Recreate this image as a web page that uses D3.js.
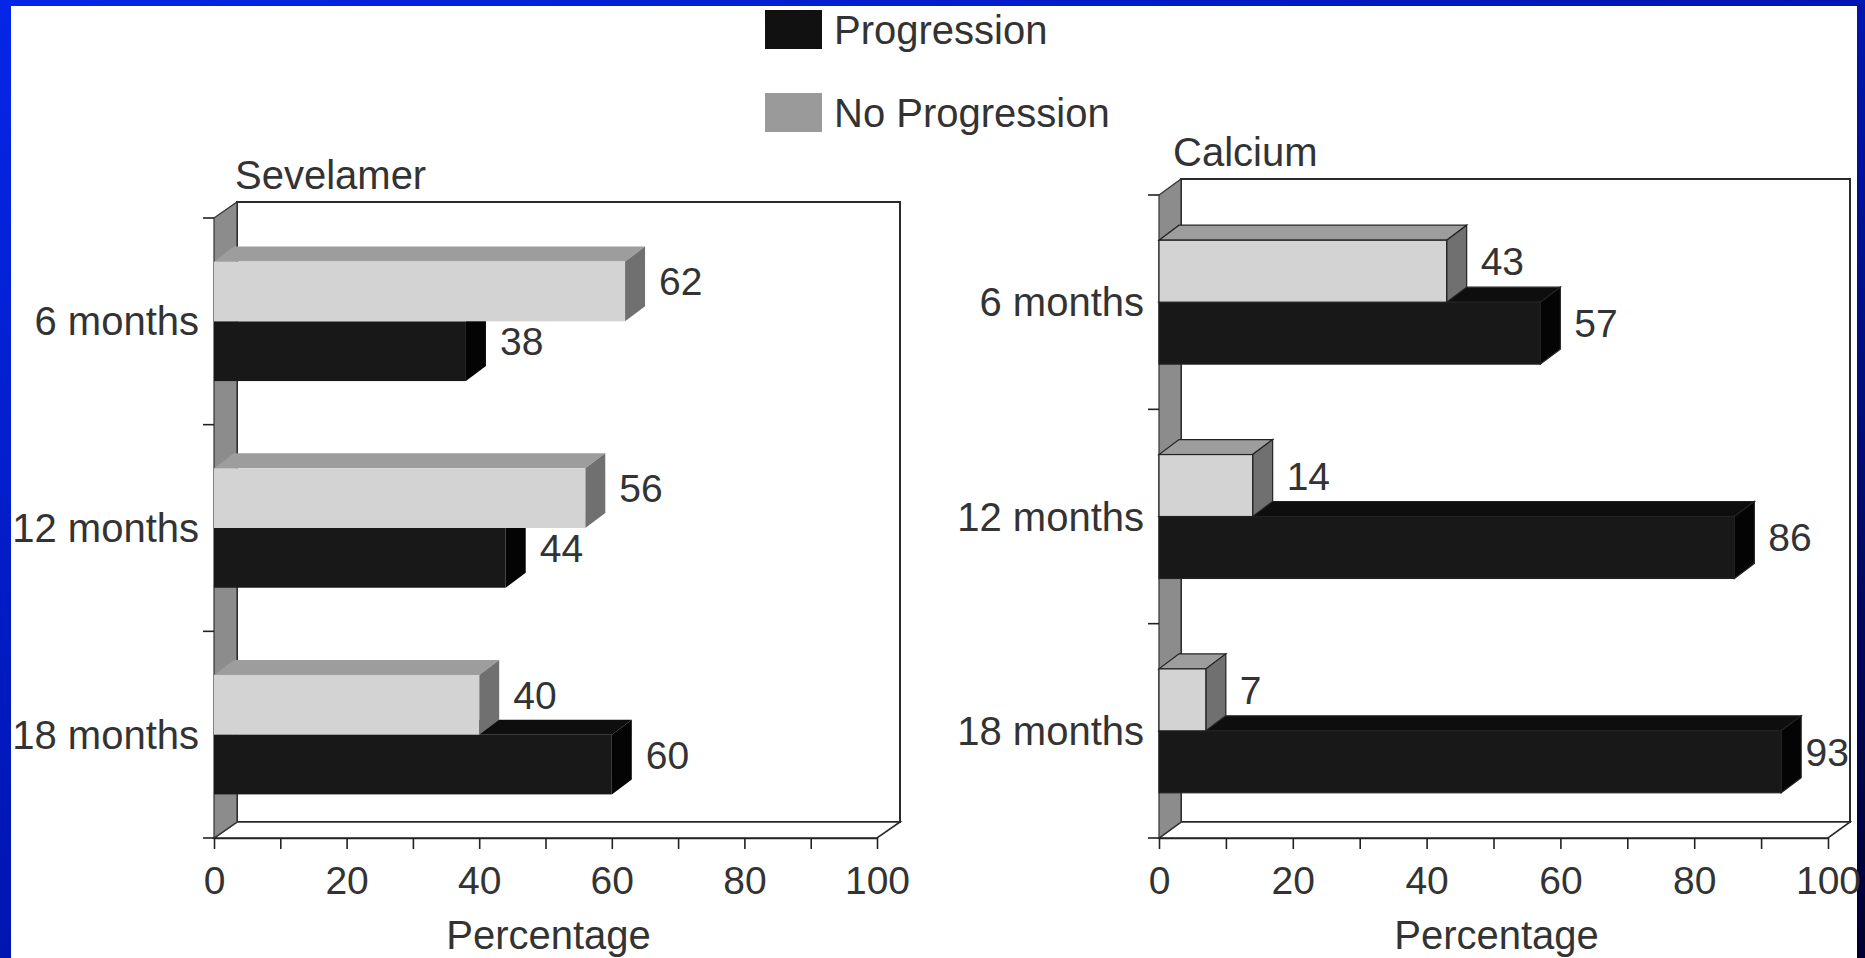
<!DOCTYPE html>
<html>
<head>
<meta charset="utf-8">
<script src="https://cdn.jsdelivr.net/npm/d3@7"></script>
<style>
  html, body { margin: 0; padding: 0; background: #fff; }
  svg { display: block; }
  text { font-family: "Liberation Sans", Arial, Helvetica, sans-serif; fill: #333; }
</style>
</head>
<body>
<svg id="chart" width="1865" height="958"></svg>
<script>
// ---------------- data ----------------
const categories = ["6 months", "12 months", "18 months"];
const seriesNames = ["Progression", "No Progression"];
const sevelamerProgression = [38, 44, 60];
const sevelamerNoProgression = [62, 56, 40];
const calciumProgression = [57, 86, 93];
const calciumNoProgression = [43, 14, 7];
const xTickValues = [0, 10, 20, 30, 40, 50, 60, 70, 80, 90, 100];
const xLabelValues = [0, 20, 40, 60, 80, 100];
const panelTitles = ["Sevelamer", "Calcium"];
const xAxisTitle = "Percentage";

// ---------------- styles ----------------
const FONT = 39;
const colors = {
  "No Progression": { front: "#d3d3d3", top: "#9d9d9d", side: "#707070", swatch: "#9a9a9a" },
  "Progression": { front: "#181818", top: "#0e0e0e", side: "#040404", swatch: "#111111" }
};

const svg = d3.select("#chart");

// blue background with gradient
const defs = svg.append("defs");
const grad = defs.append("linearGradient").attr("id", "bg")
  .attr("x1", "0").attr("y1", "0").attr("x2", "1").attr("y2", "1");
grad.append("stop").attr("offset", "0").attr("stop-color", "#0526e8");
grad.append("stop").attr("offset", "0.5").attr("stop-color", "#0016b0");
grad.append("stop").attr("offset", "1").attr("stop-color", "#000030");
svg.append("rect").attr("width", 1865).attr("height", 958).attr("fill", "url(#bg)");
svg.append("rect").attr("x", 11).attr("y", 6).attr("width", 1846).attr("height", 952).attr("fill", "#ffffff");

// ---------------- legend ----------------
const legend = svg.append("g");
const legendY = d3.scalePoint().domain(seriesNames).range([10, 93]);
seriesNames.forEach(s => {
  legend.append("rect").attr("x", 765).attr("y", legendY(s)).attr("width", 57).attr("height", 39)
    .attr("fill", colors[s].swatch);
  legend.append("text").attr("x", 834).attr("y", legendY(s) + 34)
    .attr("font-size", 40).text(s);
});

// ---------------- panels ----------------
const panels = [
  { title: panelTitles[0], prog: sevelamerProgression, noProg: sevelamerNoProgression,
    x0: 214, x1: 877, top: 218, floor: 838, wdx: 23, wdy: -16, clampRight: 1849, titleDx: 0 },
  { title: panelTitles[1], prog: calciumProgression, noProg: calciumNoProgression,
    x0: 1159, x1: 1828, top: 195, floor: 838, wdx: 22, wdy: -16, clampRight: 1849, titleDx: -6 }
];
const bdx = 20, bdy = -15;
const pts = arr => arr.map(p => p.join(",")).join(" ");

panels.forEach((p, pi) => {
  const g = svg.append("g");
  const x = d3.scaleLinear().domain([0, 100]).range([p.x0, p.x1]);
  const y = d3.scaleBand().domain(categories).range([p.top, p.floor])
    .paddingInner(0.422).paddingOuter(0.211);
  const ySub = d3.scaleBand().domain(["No Progression", "Progression"]).range([0, y.bandwidth()]);
  const step = y.step();

  // back wall
  g.append("rect")
    .attr("x", p.x0 + p.wdx).attr("y", p.top + p.wdy)
    .attr("width", p.x1 - p.x0).attr("height", p.floor - p.top)
    .attr("fill", "#fff").attr("stroke", "#2a2a2a").attr("stroke-width", 2);
  // floor
  g.append("polygon")
    .attr("points", pts([[p.x0, p.floor], [p.x1, p.floor], [p.x1 + p.wdx, p.floor + p.wdy], [p.x0 + p.wdx, p.floor + p.wdy]]))
    .attr("fill", "#fff").attr("stroke", "#2a2a2a").attr("stroke-width", 1.6);
  // left wall
  g.append("polygon")
    .attr("points", pts([[p.x0, p.top], [p.x0 + p.wdx, p.top + p.wdy], [p.x0 + p.wdx, p.floor + p.wdy], [p.x0, p.floor]]))
    .attr("fill", "#8c8c8c").attr("stroke", "#333").attr("stroke-width", 1.2);

  // y ticks at band boundaries
  d3.range(categories.length + 1).forEach(i => {
    const yy = p.top + i * step;
    g.append("line").attr("x1", p.x0 - 11).attr("x2", p.x0).attr("y1", yy).attr("y2", yy)
      .attr("stroke", "#222").attr("stroke-width", 1.6);
  });

  // x axis
  const ax = g.append("g").attr("transform", `translate(0,${p.floor})`)
    .call(d3.axisBottom(x).tickValues(xTickValues).tickSize(11).tickSizeOuter(0).tickPadding(17)
      .tickFormat(d => xLabelValues.includes(d) ? d : ""));
  ax.select(".domain").attr("stroke", "#222").attr("stroke-width", 1.6);
  ax.selectAll(".tick line").attr("stroke", "#222").attr("stroke-width", 1.6);
  ax.selectAll(".tick text").attr("font-size", FONT).attr("fill", "#333")
    .attr("font-family", "'Liberation Sans', Arial, sans-serif");

  // axis title
  g.append("text").attr("x", (p.x0 + p.x1) / 2 + 3).attr("y", 949)
    .attr("text-anchor", "middle").attr("font-size", 40).text(xAxisTitle);

  // panel title
  g.append("text").attr("x", p.x0 + p.wdx - 2 + p.titleDx).attr("y", p.top + p.wdy - 13)
    .attr("font-size", 40).text(p.title);

  // category labels
  categories.forEach(c => {
    g.append("text").attr("x", p.x0 - 15).attr("y", y(c) + y.bandwidth() / 2 + 14)
      .attr("text-anchor", "end").attr("font-size", 40).text(c);
  });

  // bars
  function bar(cat, series, v) {
    const xs = x(0), xe = x(v);
    const yt = y(cat) + ySub(series);
    const h = ySub.bandwidth();
    const c = colors[series];
    const stroke = pi === 1 ? "#222" : "none";
    g.append("polygon")
      .attr("points", pts([[xs, yt], [xe, yt], [xe + bdx, yt + bdy], [xs + bdx, yt + bdy]]))
      .attr("fill", c.top).attr("stroke", stroke).attr("stroke-width", 1.2);
    g.append("polygon")
      .attr("points", pts([[xe, yt], [xe + bdx, yt + bdy], [xe + bdx, yt + h + bdy], [xe, yt + h]]))
      .attr("fill", c.side).attr("stroke", stroke).attr("stroke-width", 1.2);
    g.append("rect").attr("x", xs).attr("y", yt).attr("width", xe - xs).attr("height", h)
      .attr("fill", c.front).attr("stroke", stroke).attr("stroke-width", 1.2);
    // value label
    const t = g.append("text").attr("x", xe + bdx + 14).attr("y", yt + h / 2 - 10 + 14)
      .attr("font-size", FONT).text(v);
    const w = t.node().getComputedTextLength();
    if (xe + bdx + 14 + w > p.clampRight) t.attr("x", p.clampRight - w);
  }
  categories.forEach((c, i) => {
    bar(c, "Progression", p.prog[i]);
    bar(c, "No Progression", p.noProg[i]);
  });
});
</script>
</body>
</html>
